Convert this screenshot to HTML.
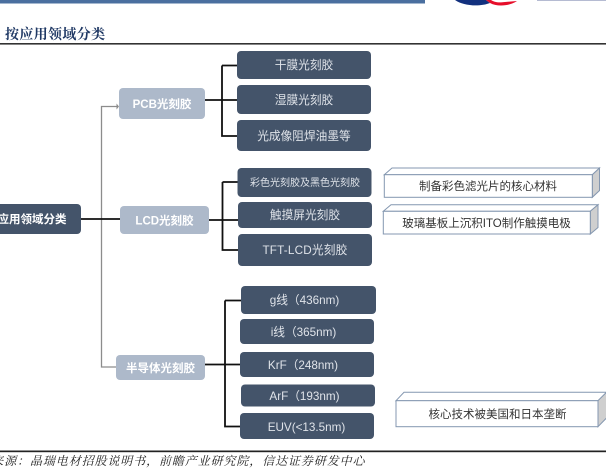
<!DOCTYPE html>
<html lang="zh">
<head>
<meta charset="utf-8">
<style>
html,body{margin:0;padding:0;background:#fff;width:606px;height:472px;overflow:hidden}
svg{display:block;filter:blur(.35px)}
.s{font-family:"Liberation Sans","Noto Sans CJK SC",sans-serif;font-size:11.7px;fill:#dfe3e9;text-anchor:middle}
.b{font-family:"Liberation Sans","Noto Sans CJK SC",sans-serif;font-size:11.5px;font-weight:700;fill:#fff;text-anchor:middle}
.n{font-family:"Liberation Sans","Noto Sans CJK SC",sans-serif;font-size:11.5px;fill:#333;text-anchor:middle}
.d{fill:#44546a}
.l{fill:#adb9ca}
</style>
</head>
<body>
<svg width="606" height="472" viewBox="0 0 606 472" xmlns="http://www.w3.org/2000/svg">
<rect x="0" y="0" width="425" height="3.5" fill="#4a6f9f"/>
<path d="M455 0C463 6 480 7 490 3L486 0Z" fill="#12307e"/>
<path d="M486 0L490 3C497 7 510 6 517 1L505 2C498 3 494 2 491 0Z" fill="#e60e2a"/>
<rect x="537" y="0" width="69" height="1" fill="#b5bbd2"/>

<text x="5" y="39" font-family="'Liberation Serif','Noto Serif CJK SC',serif" font-size="14" font-weight="700" fill="#1f3864" letter-spacing=".35">按应用领域分类</text>
<rect x="0" y="43" width="606" height="1.6" fill="#333"/>

<!-- connectors -->
<g fill="none" stroke="#8c8c8c" stroke-width="1.3">
<path d="M101.500 219V106.500H118M101.500 219V367H116"/>
</g>
<path d="M116.500 103.500L119 106.500L116.500 109.500Z" fill="#8c8c8c"/>
<g fill="none" stroke="#111" stroke-width="1.800">
<path d="M81 219H120"/>
<path d="M205 100H238M222 65.500H237M222 65.500V136H238"/>
<path d="M209 220H238M222.500 182H238M222.500 182V250H238"/>
<path d="M205 364.500H240M225 300.500H241M225 300.500V426.500H240"/>
</g>

<!-- root and category nodes -->
<rect x="-20" y="204" width="101" height="30" rx="4" class="d"/>
<text x="32" y="223" class="b">应用领域分类</text>
<rect x="119" y="88" width="86" height="31" rx="4" class="l"/>
<text x="162" y="108" class="b">PCB光刻胶</text>
<rect x="120" y="206" width="89" height="28" rx="4" class="l"/>
<text x="164.500" y="224.500" class="b">LCD光刻胶</text>
<rect x="116" y="355" width="89" height="25" rx="4" class="l"/>
<text x="160.500" y="372" class="b">半导体光刻胶</text>

<!-- leaves -->
<rect x="237" y="51" width="134" height="28" rx="4" class="d"/>
<text x="304" y="69" class="s">干膜光刻胶</text>
<rect x="237" y="85" width="134" height="29" rx="4" class="d"/>
<text x="304" y="104" class="s">湿膜光刻胶</text>
<rect x="237" y="120" width="134" height="31" rx="4" class="d"/>
<text x="304" y="140" class="s">光成像阻焊油墨等</text>

<rect x="237.500" y="168" width="134" height="29" rx="4" class="d"/>
<text x="305" y="186" class="s" style="font-size:10px">彩色光刻胶及黑色光刻胶</text>
<rect x="238" y="202" width="134" height="26" rx="4" class="d"/>
<text x="305" y="219" class="s">触摸屏光刻胶</text>
<rect x="238" y="234" width="134" height="32" rx="4" class="d"/>
<text x="305" y="254" class="s" letter-spacing=".2">TFT-LCD光刻胶</text>

<rect x="241" y="286" width="135" height="28" rx="4" class="d"/>
<text x="304.500" y="304" class="s">g线（436nm)</text>
<rect x="240" y="319" width="134" height="25" rx="4" class="d"/>
<text x="303.500" y="336" class="s">i线（365nm)</text>
<rect x="240" y="352" width="134" height="25" rx="4" class="d"/>
<text x="303" y="369" class="s">KrF（248nm)</text>
<rect x="241" y="384.500" width="134" height="22" rx="4" class="d"/>
<text x="304.500" y="400" class="s">ArF（193nm)</text>
<rect x="240" y="413" width="134" height="26" rx="4" class="d"/>
<text x="306.500" y="431" class="s">EUV(&lt;13.5nm)</text>

<!-- 3D boxes -->
<g stroke="#8497b0" stroke-width="1">
<path d="M392 168H599.500L592.300 174.700H384.300Z" fill="#fff"/>
<path d="M592.300 174.700L599.500 168V190.500L592.300 197.300Z" fill="#cfcfcf"/>
<rect x="384.300" y="174.700" width="208" height="22.600" fill="#fff"/>
<path d="M391 204.700H598L590.300 211.300H383.300Z" fill="#fff"/>
<path d="M590.300 211.300L598 204.700V227.500L590.300 234Z" fill="#cfcfcf"/>
<rect x="383.300" y="211.300" width="207" height="22.700" fill="#fff"/>
<path d="M404 392.300H606.500L598 400.700H396Z" fill="#fff"/>
<path d="M598 400.700L606.500 392.300V418L598 426.700Z" fill="#cfcfcf"/>
<rect x="396" y="400.700" width="202" height="26" fill="#fff"/>
</g>
<text x="488" y="190" class="n">制备彩色滤光片的核心材料</text>
<text x="486.500" y="227" class="n">玻璃基板上沉积ITO制作触摸电极</text>
<text x="497.500" y="418" class="n">核心技术被美国和日本垄断</text>

<!-- footer -->
<rect x="0" y="450.500" width="606" height="1.700" fill="#222"/>
<text x="-34.500" y="465" font-family="'Liberation Serif','Noto Serif CJK SC',serif" font-size="12" font-style="italic" letter-spacing=".9" fill="#222">资料来源：晶瑞电材招股说明书，前瞻产业研究院，信达证券研发中心</text>
</svg>
</body>
</html>
